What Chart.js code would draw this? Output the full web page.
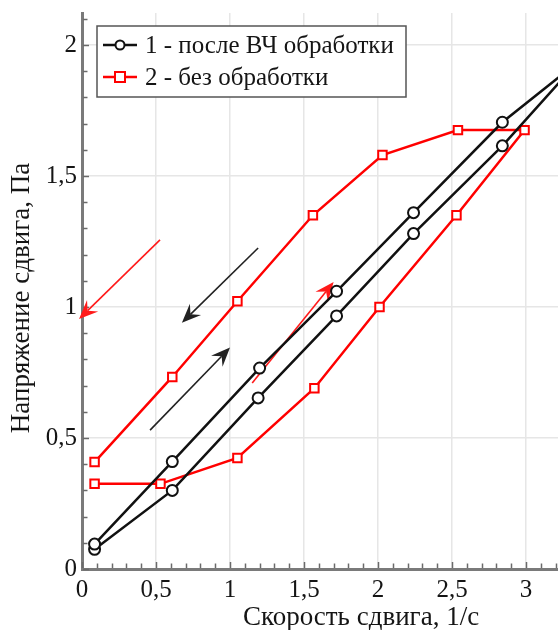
<!DOCTYPE html>
<html>
<head>
<meta charset="utf-8">
<script src="https://cdn.jsdelivr.net/npm/chart.js@4.4.1/dist/chart.umd.min.js"></script>
<style>
html,body{margin:0;padding:0;background:#fff;overflow:hidden;}
#wrap{width:558px;height:630px;position:relative;}
</style>
</head>
<body>
<div id="wrap"><canvas id="c" width="558" height="630"></canvas></div>
<script>
// ---- data ----
const seriesNames = ['1 - после ВЧ обработки', '2 - без обработки'];
const blackX = [0.085, 0.61, 1.19, 1.72, 2.24, 2.84, 3.34, 2.84, 2.24, 1.72, 1.20, 0.61, 0.085];
const blackY = [0.075, 0.30, 0.653, 0.966, 1.28, 1.615, 1.93, 1.705, 1.36, 1.06, 0.767, 0.41, 0.095];
const redX = [0.085, 0.53, 1.05, 1.57, 2.01, 2.53, 2.99, 2.54, 2.03, 1.56, 1.05, 0.61, 0.085];
const redY = [0.325, 0.325, 0.424, 0.69, 1.00, 1.35, 1.675, 1.675, 1.58, 1.35, 1.022, 0.733, 0.408];
const xTickValues = [0, 0.5, 1, 1.5, 2, 2.5, 3];
const xTickLabels = ['0', '0,5', '1', '1,5', '2', '2,5', '3'];
const yTickValues = [0, 0.5, 1, 1.5, 2];
const yTickLabels = ['0', '0,5', '1', '1,5', '2'];
const xTitle = 'Скорость сдвига, 1/с';
const yTitle = 'Напряжение сдвига, Па';
// annotation arrows in data units: [x0, y0, x1, y1] (head at x1,y1)
const redArrows = [[0.527, 1.256, -0.02, 0.954], [1.15, 0.71, 1.70, 1.095]];
const blackArrows = [[0.46, 0.53, 1.0, 0.845], [1.19, 1.225, 0.675, 0.94]];

const FONT = "'Liberation Serif', 'Times New Roman', serif";
const TXT = '#151515';

function pts(xs, ys) { return xs.map((x, i) => ({x: x, y: ys[i]})); }
function isMajor(v) { return Math.abs(v * 2 - Math.round(v * 2)) < 1e-6; }
function labelFor(v, vals, labs) {
  for (let i = 0; i < vals.length; i++) if (Math.abs(vals[i] - v) < 1e-6) return labs[i];
  return '';
}

function drawArrow(ctx, x0, y0, x1, y1, color) {
  const ang = Math.atan2(y1 - y0, x1 - x0);
  const L = 19, W = 8, N = 12;
  ctx.save();
  ctx.strokeStyle = color; ctx.fillStyle = color; ctx.lineWidth = 1.6;
  ctx.beginPath();
  ctx.moveTo(x0, y0);
  ctx.lineTo(x1 - Math.cos(ang) * N, y1 - Math.sin(ang) * N);
  ctx.stroke();
  ctx.translate(x1, y1); ctx.rotate(ang);
  ctx.beginPath();
  ctx.moveTo(0, 0);
  ctx.lineTo(-L, -W);
  ctx.lineTo(-N, 0);
  ctx.lineTo(-L, W);
  ctx.closePath();
  ctx.fill();
  ctx.restore();
}

const decorPlugin = {
  id: 'decor',
  beforeDatasetsDraw(chart) {
    const ctx = chart.ctx, xs = chart.scales.x, ys = chart.scales.y, ca = chart.chartArea;
    // inner tick marks
    ctx.save();
    ctx.strokeStyle = '#6a6a6a'; ctx.lineWidth = 1.5;
    xs.ticks.forEach(t => {
      const px = Math.round(xs.getPixelForValue(t.value)) + 0.5;
      const len = isMajor(t.value) ? 6 : 4.5;
      ctx.beginPath(); ctx.moveTo(px, ca.bottom - 1); ctx.lineTo(px, ca.bottom - 1 - len); ctx.stroke();
    });
    ys.ticks.forEach(t => {
      const py = Math.round(ys.getPixelForValue(t.value)) + 0.5;
      const len = isMajor(t.value) ? 6 : 4.5;
      ctx.beginPath(); ctx.moveTo(ca.left + 1, py); ctx.lineTo(ca.left + 1 + len, py); ctx.stroke();
    });
    ctx.restore();
    // arrows
    redArrows.forEach(a => drawArrow(ctx, xs.getPixelForValue(a[0]), ys.getPixelForValue(a[1]),
      xs.getPixelForValue(a[2]), ys.getPixelForValue(a[3]), '#ff1a1a'));
    blackArrows.forEach(a => drawArrow(ctx, xs.getPixelForValue(a[0]), ys.getPixelForValue(a[1]),
      xs.getPixelForValue(a[2]), ys.getPixelForValue(a[3]), '#222'));
  },
  afterDraw(chart) {
    const ctx = chart.ctx, ca = chart.chartArea;
    ctx.save();
    ctx.fillStyle = TXT;
    ctx.font = '27px ' + FONT;
    ctx.textAlign = 'center'; ctx.textBaseline = 'middle';
    ctx.fillText(xTitle, ca.left + 279, ca.bottom + 49);
    ctx.translate(22, ca.top + 285); ctx.rotate(-Math.PI / 2);
    ctx.fillText(yTitle, 0, 0);
    ctx.restore();
    // legend
    const bx = ca.left + 15, by = ca.top + 13, bw = 309, bh = 71;
    ctx.save();
    ctx.fillStyle = '#fff'; ctx.fillRect(bx, by, bw, bh);
    ctx.strokeStyle = '#555'; ctx.lineWidth = 1.5; ctx.strokeRect(bx, by, bw, bh);
    chart.data.datasets.forEach((ds, i) => {
      const cy = by + 19 + i * 32;
      ctx.strokeStyle = ds.borderColor; ctx.lineWidth = 2.5;
      ctx.beginPath(); ctx.moveTo(bx + 6, cy); ctx.lineTo(bx + 40, cy); ctx.stroke();
      ctx.fillStyle = '#fff'; ctx.lineWidth = 2;
      if (ds.pointStyle === 'rect') {
        ctx.fillRect(bx + 18, cy - 5, 10, 10); ctx.strokeRect(bx + 18, cy - 5, 10, 10);
      } else {
        ctx.beginPath(); ctx.arc(bx + 23, cy, 4.5, 0, Math.PI * 2); ctx.fill(); ctx.stroke();
      }
      ctx.fillStyle = TXT; ctx.font = '25px ' + FONT;
      ctx.textAlign = 'left'; ctx.textBaseline = 'middle';
      ctx.fillText(ds.label, bx + 48, cy + 1);
    });
    ctx.restore();
  }
};

new Chart(document.getElementById('c'), {
  type: 'scatter',
  data: {
    datasets: [
      {
        label: seriesNames[0], data: pts(blackX, blackY), showLine: true,
        borderColor: '#111', backgroundColor: '#fff', borderWidth: 2.5,
        pointStyle: 'circle', pointRadius: 5.5, pointBorderWidth: 2, tension: 0
      },
      {
        label: seriesNames[1], data: pts(redX, redY), showLine: true,
        borderColor: '#ff0000', backgroundColor: '#fff', borderWidth: 2.5,
        pointStyle: 'rect', pointRadius: 6, pointBorderWidth: 2, tension: 0
      }
    ]
  },
  options: {
    responsive: false, animation: false, devicePixelRatio: 1,
    layout: { autoPadding: false, padding: { top: 13, right: 0, left: 0, bottom: 0 } },
    plugins: { legend: { display: false }, tooltip: { enabled: false } },
    scales: {
      x: {
        type: 'linear', min: 0, max: 3.216,
        afterFit(s) { s.height = 61; s.paddingLeft = 0; s.paddingRight = 0; },
        ticks: {
          stepSize: 0.1, includeBounds: false, autoSkip: false, maxRotation: 0,
          padding: 6, color: TXT, font: { family: FONT, size: 25 },
          callback: v => labelFor(v, xTickValues, xTickLabels)
        },
        grid: {
          drawTicks: false,
          color: c => (isMajor(c.tick.value) && c.tick.value > 0) ? '#e6e6e6' : 'rgba(0,0,0,0)',
          lineWidth: 1.5
        },
        border: { display: true, color: '#7a7a7a', width: 3 }
      },
      y: {
        type: 'linear', min: 0, max: 2.122,
        afterFit(s) { s.width = 82; s.paddingTop = 0; s.paddingBottom = 0; },
        ticks: {
          stepSize: 0.1, includeBounds: false, autoSkip: false,
          padding: 5, color: TXT, font: { family: FONT, size: 25 },
          callback: v => labelFor(v, yTickValues, yTickLabels)
        },
        grid: {
          drawTicks: false,
          color: c => (isMajor(c.tick.value) && c.tick.value > 0) ? '#e6e6e6' : 'rgba(0,0,0,0)',
          lineWidth: 1.5
        },
        border: { display: true, color: '#7a7a7a', width: 3 }
      }
    }
  },
  plugins: [decorPlugin]
});
</script>
</body>
</html>
